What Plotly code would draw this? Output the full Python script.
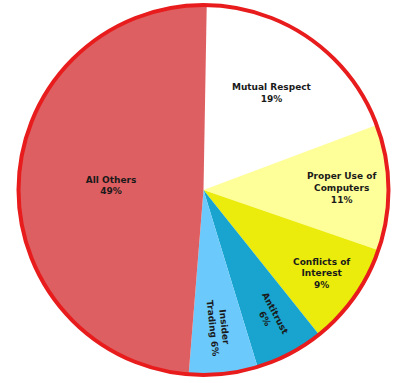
import plotly.graph_objects as go

categories = ["Mutual Respect", "Proper Use of Computers", "Conflicts of Interest",
              "Antitrust", "Insider Trading", "All Others"]
display_names = ["Mutual Respect<br>", "Proper Use of<br>Computers<br>", "Conflicts of<br>Interest<br>",
                 "Antitrust<br>", "Insider<br>Trading ", "All Others<br>"]
values = [19, 11, 9, 6, 6, 49]
radial_labels = [False, False, False, True, True, False]
colors = ["#ffffff", "#ffff99", "#ecec0c", "#18a4cf", "#6cc9fb", "#de5f61"]

tmpl = "%{customdata}%{value}%"
font = dict(family="DejaVu Sans", size=9, color="#1a1a1a", weight="bold")
common = dict(labels=categories, values=values, customdata=display_names,
              textposition="inside", sort=False, direction="clockwise",
              rotation=1, textfont=font, showlegend=False)

fig = go.Figure()
# coloured slices with horizontal labels
fig.add_trace(go.Pie(
    texttemplate=["" if r else tmpl for r in radial_labels],
    insidetextorientation="horizontal",
    marker=dict(colors=colors, line=dict(width=0)),
    hoverinfo="label+percent",
    **common,
))
# same slices, transparent, carrying the radial labels of the narrow slices
fig.add_trace(go.Pie(
    texttemplate=[tmpl if r else "" for r in radial_labels],
    insidetextorientation="radial",
    marker=dict(colors=["rgba(0,0,0,0)"] * len(values), line=dict(width=0)),
    hoverinfo="skip",
    **common,
))
# outer red ring
fig.add_trace(go.Pie(
    values=[1],
    labels=["ring"],
    sort=False,
    textinfo="none",
    hoverinfo="skip",
    marker=dict(colors=["rgba(0,0,0,0)"], line=dict(color="#e81c1c", width=4)),
    showlegend=False,
))

fig.update_layout(
    width=394, height=383,
    margin=dict(l=18, r=5, t=5, b=8),
    paper_bgcolor="white",
    plot_bgcolor="white",
    showlegend=False,
)
fig.write_html("out.html")
